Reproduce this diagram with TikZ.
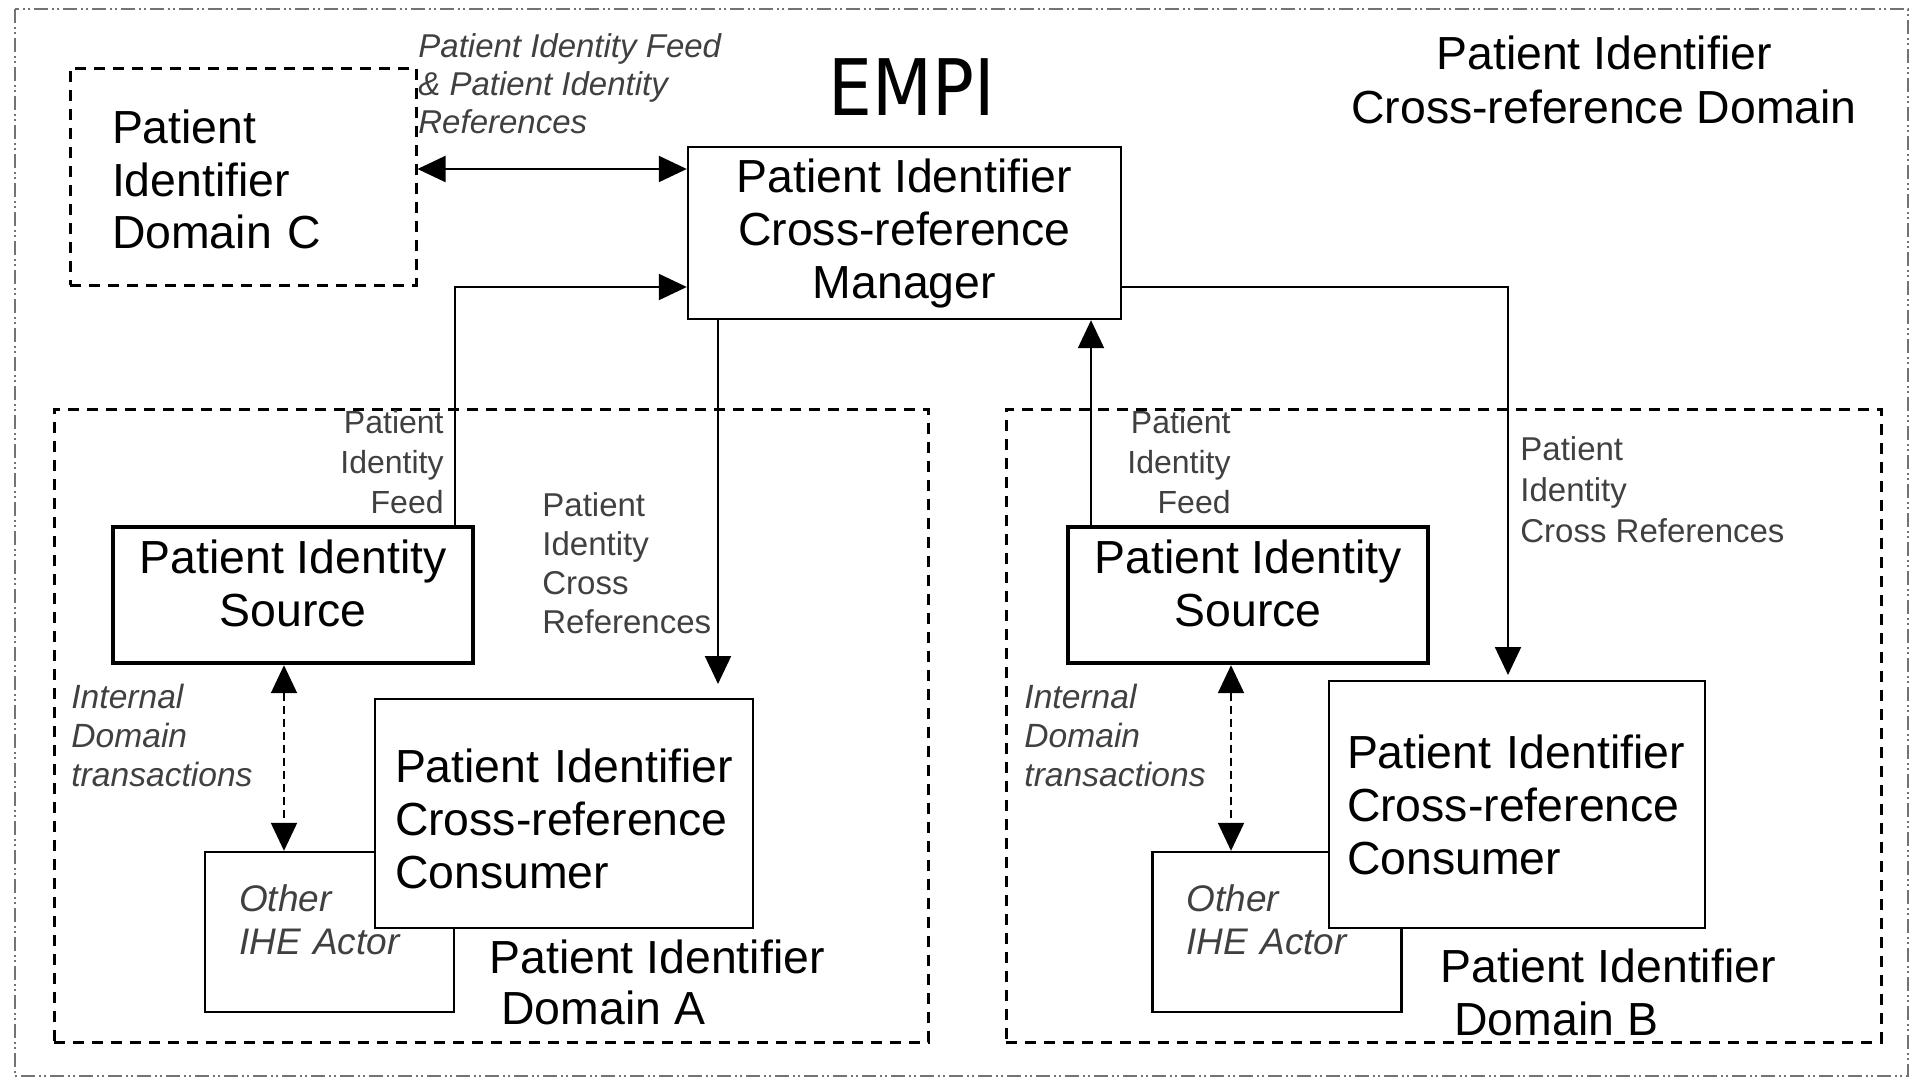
\documentclass[tikz,border=0pt]{standalone}
\usepackage{fontspec}
\setmainfont{Liberation Sans}
\newfontfamily\empifont[FakeStretch=0.89]{DejaVu Sans}
\usetikzlibrary{arrows.meta}

\begin{document}
\begin{tikzpicture}[x=0.5pt, y=-0.5pt, >={Triangle[length=14pt, width=13pt]}]
       \tikzstyle{every node}=[font=\fontsize{16.5}{19.8}\selectfont, text=black!75, inner sep=0pt]
       \tikzstyle{bigtext}=[font=\fontsize{23.2}{26.5}\selectfont, text=black]
       \tikzstyle{actor}=[bigtext, draw, fill=white, line width=1.2pt, inner xsep=10pt, inner ysep=2pt]
       \tikzstyle{otheractor}=[actor, align=left, text width=90.5pt, inner xsep=17pt,
                          minimum height=80pt, text depth=33.5pt, text=black!75,
                          font=\itshape\fontsize{18.5}{21.5}\selectfont]
       \tikzstyle{domainbox}=[draw, line width=1.5pt, dash pattern=on 5.5pt off 4pt]
       \tikzstyle{msgline}=[line width=1pt, ->]
       \tikzstyle{localmsg}=[line width=1pt, <->, dash pattern=on 4pt off 2.5pt]

   \useasboundingbox (0,0) rectangle (1916,1082);
   \draw[black!55, line width=1pt, dash pattern=on 7pt off 2pt on 1pt off 1.5pt on 1pt off 2pt]
       (15,9) rectangle (1908,1076);

% cross-reference domain: manager
   \node[text=black, font=\empifont\fontsize{39}{40}\selectfont] (EMPI) at (912,87) {EMPI};
   \node[bigtext, align=center, font=\fontsize{23.2}{27}\selectfont] (XrefDomain) at (1604,80)
       {Patient Identifier\\Cross-reference Domain};
   \node[actor, align=center, minimum width=216.5pt, minimum height=86pt] (Manager) at (904.5,233)
       {Patient Identifier\\Cross-reference\\Manager};

% domain C
   \node[domainbox, bigtext, align=left, text width=131pt, inner xsep=21pt, minimum height=108.5pt,
         font=\fontsize{23.2}{26.3}\selectfont, text depth=49.6pt] (DomainC) at (243,176.5)
       {Patient\\Identifier\\Domain C};
   \node[anchor=west, align=left, font=\itshape\fontsize{16.5}{19}\selectfont] (FeedCLabel) at (418,84)
       {Patient Identity Feed\\\& Patient Identity\\References};

% domain A
   \node[domainbox, minimum width=437pt, minimum height=316.5pt] (DomainA) at (491,725.5) {};
   \node[otheractor] (OtherA) at (329.5,932) {Other\\IHE Actor};
   \node[actor, align=left, text width=169pt, minimum height=114.5pt, text depth=48pt] (ConsumerA)
       at (564,813.5) {Patient Identifier\\Cross-reference\\Consumer};
   \node[actor, line width=2.2pt, align=center, minimum width=180pt, minimum height=68pt,
         text depth=12pt] (SourceA) at (293,595) {Patient Identity\\Source};
   \node[anchor=east, align=right, font=\fontsize{16}{20}\selectfont] (FeedALabel) at (444,462)
       {Patient\\Identity\\Feed};
   \node[anchor=west, align=left, font=\fontsize{16.5}{19.4}\selectfont] (XrefALabel) at (542,563)
       {Patient\\Identity\\Cross\\References};
   \node[anchor=west, align=left, font=\itshape\fontsize{16.8}{19.5}\selectfont] (LocalALabel) at (71,735)
       {Internal\\Domain\\transactions};
   \node[bigtext, anchor=west, align=left, font=\fontsize{23.2}{25.5}\selectfont] (DomainALabel) at (489,982)
       {Patient Identifier\\\hspace*{6pt}Domain A};

% domain B
   \node[domainbox, minimum width=437.5pt, minimum height=316.5pt] (DomainB) at (1443.5,725.5) {};
   \node[otheractor] (OtherB) at (1277,932) {Other\\IHE Actor};
   \node[actor, align=left, text width=170pt, inner xsep=9pt, minimum height=123.5pt] (ConsumerB)
       at (1517,804.5) {Patient Identifier\\Cross-reference\\Consumer};
   \node[actor, line width=2.2pt, align=center, minimum width=180pt, minimum height=68pt,
         text depth=12pt] (SourceB) at (1248,595) {Patient Identity\\Source};
   \node[anchor=east, align=right, font=\fontsize{16}{20}\selectfont] (FeedBLabel) at (1231,462)
       {Patient\\Identity\\Feed};
   \node[anchor=west, align=left, font=\fontsize{16.5}{20.5}\selectfont] (XrefBLabel) at (1520,490)
       {Patient\\Identity\\Cross References};
   \node[anchor=west, align=left, font=\itshape\fontsize{16.8}{19.5}\selectfont] (LocalBLabel) at (1024,735)
       {Internal\\Domain\\transactions};
   \node[bigtext, anchor=west, align=left, font=\fontsize{23.2}{26.5}\selectfont] (DomainBLabel) at (1440,992)
       {Patient Identifier\\\hspace*{7pt}Domain B};

% transactions
   \coordinate (feedC) at (550,169);
   \draw[msgline, <->] (DomainC.east |- feedC) -- (Manager.west |- feedC);
   \coordinate (feedA) at (455,287);
   \draw[msgline] (SourceA.north -| feedA) |- (Manager.west |- feedA);
   \coordinate (xrefA) at (718,684);
   \draw[msgline] (Manager.south -| xrefA) -- (xrefA);
   \coordinate (feedB) at (1091,0);
   \draw[msgline] (SourceB.north -| feedB) -- (Manager.south -| feedB);
   \coordinate (xrefB) at (1508,675);
   \draw[msgline] (Manager.east |- feedA) -| (xrefB);
   \coordinate (localA) at (284,0);
   \draw[localmsg] (SourceA.south -| localA) -- (OtherA.north -| localA);
   \coordinate (localB) at (1231,0);
   \draw[localmsg] (SourceB.south -| localB) -- (OtherB.north -| localB);

\end{tikzpicture}
\end{document}
